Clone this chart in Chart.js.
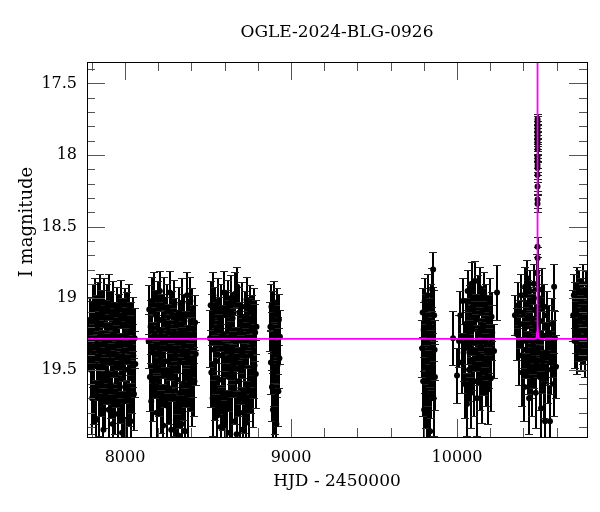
<!DOCTYPE html>
<html>
<head>
<meta charset="utf-8">
<script src="https://cdn.jsdelivr.net/npm/chart.js@4.4.1/dist/chart.umd.min.js"></script>
<style>
  body { margin: 0; background: #fff; }
  canvas { display: block; }
</style>
</head>
<body>
<canvas id="lc" width="600" height="512"></canvas>
<script>
// OGLE photometry, [HJD-2450000, I mag, error], one array per season
var season1 = [[7786,19.32,0.18],[7790,19.15,0.16],[7794,19.50,0.20],[7798,19.21,0.19],[7802,19.70,0.25],[7806,19.08,0.18],[7810,19.40,0.22],[7814,19.63,0.25],[7818,19.02,0.16],[7822,19.29,0.20],[7826,19.85,0.28],[7830,19.17,0.19],[7834,19.48,0.23],[7838,19.06,0.17],[7842,19.36,0.21],[7846,19.70,0.26],[7850,18.99,0.16],[7854,19.25,0.20],[7858,19.58,0.24],[7862,19.12,0.18],[7866,19.44,0.22],[7870,19.92,0.29],[7874,19.03,0.17],[7878,19.31,0.20],[7882,19.66,0.25],[7886,19.20,0.19],[7890,19.51,0.23],[7894,19.07,0.17],[7898,19.38,0.21],[7902,19.78,0.27],[7906,18.99,0.16],[7910,19.27,0.20],[7914,19.60,0.24],[7918,19.13,0.18],[7922,19.45,0.22],[7926,19.88,0.28],[7930,19.05,0.17],[7934,19.34,0.21],[7938,19.69,0.26],[7942,19.22,0.19],[7946,19.53,0.23],[7950,19.10,0.18],[7954,19.41,0.22],[7958,19.81,0.27],[7962,19.16,0.19],[7966,19.30,0.20],[7970,19.62,0.25],[7974,19.04,0.17],[7978,19.47,0.23],[7982,19.94,0.29],[7986,19.19,0.19],[7990,19.37,0.21],[7994,19.72,0.26],[7998,19.11,0.18],[8002,19.50,0.23],[8006,19.26,0.20],[8010,19.85,0.28],[8014,19.15,0.19],[8018,19.43,0.22],[8022,19.64,0.25],[8026,19.08,0.18],[8030,19.33,0.21],[8034,19.86,0.27],[8038,19.23,0.20],[8042,19.56,0.24],[8046,19.18,0.19],[8050,19.40,0.22],[8054,19.67,0.25],[8058,19.28,0.21],[8062,19.46,0.23]];
var season2 = [[8142,19.30,0.19],[8146,19.08,0.17],[8150,19.55,0.24],[8154,19.20,0.19],[8158,19.72,0.27],[8162,19.02,0.17],[8166,19.38,0.21],[8170,19.61,0.25],[8174,18.97,0.15],[8178,19.26,0.20],[8182,19.47,0.23],[8186,19.12,0.18],[8190,19.80,0.28],[8194,19.33,0.21],[8198,19.05,0.17],[8202,19.58,0.24],[8206,19.22,0.19],[8210,18.95,0.14],[8214,19.42,0.22],[8218,19.68,0.26],[8222,19.15,0.18],[8226,19.35,0.21],[8230,19.89,0.29],[8234,19.01,0.16],[8238,19.28,0.20],[8242,19.52,0.24],[8246,19.18,0.19],[8250,19.75,0.27],[8254,19.07,0.17],[8258,19.44,0.22],[8262,19.24,0.20],[8266,19.63,0.25],[8270,18.96,0.15],[8274,19.36,0.21],[8278,19.92,0.29],[8282,19.13,0.18],[8286,19.49,0.23],[8290,19.27,0.20],[8294,19.70,0.26],[8298,19.04,0.17],[8302,19.40,0.22],[8306,19.85,0.28],[8310,19.19,0.19],[8314,19.57,0.24],[8318,19.31,0.21],[8322,19.96,0.30],[8326,19.10,0.18],[8330,19.45,0.23],[8334,19.66,0.25],[8338,19.23,0.20],[8342,19.88,0.29],[8346,19.03,0.17],[8350,19.37,0.21],[8354,19.60,0.25],[8358,19.16,0.19],[8362,19.93,0.30],[8366,19.29,0.20],[8370,19.52,0.24],[8374,18.98,0.16],[8378,19.41,0.22],[8382,19.74,0.27],[8386,19.21,0.19],[8390,19.55,0.24],[8394,19.02,0.17],[8398,19.34,0.21],[8402,19.64,0.25],[8406,19.11,0.18],[8410,19.46,0.23],[8414,19.25,0.20],[8418,19.58,0.24],[8422,19.17,0.19],[8426,19.39,0.22]];
var season3 = [[8512,19.28,0.20],[8516,19.05,0.17],[8520,19.52,0.24],[8524,19.15,0.18],[8528,19.70,0.26],[8532,18.98,0.16],[8536,19.36,0.21],[8540,19.60,0.25],[8544,19.09,0.17],[8548,19.44,0.23],[8552,19.22,0.19],[8556,19.82,0.28],[8560,19.02,0.16],[8564,19.31,0.20],[8568,19.57,0.24],[8572,19.18,0.19],[8576,19.90,0.29],[8580,19.07,0.17],[8584,19.40,0.22],[8588,19.66,0.26],[8592,19.25,0.20],[8596,18.96,0.15],[8600,19.48,0.23],[8604,19.78,0.27],[8608,19.12,0.18],[8612,19.34,0.21],[8616,19.94,0.30],[8620,19.04,0.17],[8624,19.55,0.24],[8628,19.20,0.19],[8632,19.72,0.27],[8636,19.00,0.16],[8640,19.38,0.22],[8644,19.86,0.29],[8648,19.14,0.18],[8652,19.46,0.23],[8656,19.27,0.20],[8660,19.63,0.25],[8664,18.97,0.15],[8668,19.42,0.22],[8672,19.95,0.30],[8676,18.92,0.14],[8680,19.30,0.21],[8684,19.58,0.24],[8688,19.10,0.18],[8692,19.80,0.28],[8696,19.23,0.20],[8700,19.50,0.24],[8704,19.06,0.17],[8708,19.92,0.30],[8712,19.35,0.21],[8716,19.68,0.26],[8720,19.13,0.18],[8724,19.44,0.23],[8728,19.87,0.29],[8732,19.01,0.16],[8736,19.29,0.20],[8740,19.61,0.25],[8744,19.19,0.19],[8748,19.74,0.27],[8752,19.08,0.17],[8756,19.40,0.22],[8760,19.56,0.24],[8764,19.16,0.18],[8768,19.33,0.21],[8772,19.65,0.25],[8776,19.11,0.18],[8780,19.47,0.23],[8784,19.24,0.20],[8788,19.53,0.24],[8792,19.20,0.19]];
var season4 = [[8876,19.20,0.17],[8879,19.45,0.22],[8882,19.06,0.16],[8885,19.62,0.24],[8888,19.30,0.20],[8891,19.78,0.26],[8894,19.12,0.17],[8897,19.52,0.23],[8900,19.03,0.15],[8903,19.38,0.21],[8906,19.70,0.25],[8909,19.24,0.19],[8912,19.88,0.28],[8915,19.09,0.16],[8918,19.47,0.22],[8921,19.33,0.20],[8924,19.65,0.24],[8927,19.15,0.18],[8930,19.42,0.21],[8933,19.27,0.19]];
var season5 = [[9790,19.35,0.20],[9793,19.10,0.17],[9796,19.58,0.24],[9799,19.22,0.19],[9802,19.78,0.27],[9805,19.02,0.16],[9808,19.44,0.22],[9811,19.66,0.25],[9814,19.15,0.18],[9817,19.88,0.28],[9820,19.30,0.20],[9823,18.98,0.15],[9826,19.52,0.23],[9829,19.72,0.26],[9832,19.18,0.18],[9835,19.40,0.22],[9838,19.93,0.29],[9841,19.06,0.16],[9844,19.60,0.24],[9847,19.26,0.20],[9850,18.94,0.15],[9853,19.47,0.23],[9856,18.80,0.12],[9859,19.70,0.26],[9862,19.12,0.18],[9865,19.36,0.21],[9867,19.55,0.23]];
var season6 = [[9976,19.28,0.19],[10000,19.54,0.19],[10012,19.30,0.18],[10020,19.12,0.17],[10028,19.45,0.21],[10034,19.02,0.16],[10040,19.38,0.20],[10046,19.60,0.24],[10052,19.18,0.18],[10060,19.74,0.22],[10064,18.95,0.15],[10068,19.27,0.19],[10072,19.50,0.22],[10076,19.08,0.17],[10080,19.35,0.20],[10084,19.66,0.25],[10088,18.90,0.15],[10092,19.22,0.18],[10096,19.43,0.21],[10100,19.05,0.16],[10104,19.58,0.24],[10108,18.88,0.14],[10112,19.31,0.20],[10116,19.15,0.18],[10120,19.70,0.26],[10124,19.00,0.16],[10128,19.40,0.21],[10132,19.25,0.19],[10136,19.55,0.23],[10140,18.93,0.15],[10144,19.34,0.20],[10148,19.10,0.17],[10152,19.62,0.25],[10156,19.20,0.18],[10160,19.46,0.22],[10164,18.97,0.15],[10168,19.29,0.19],[10172,19.52,0.23],[10176,19.07,0.17],[10180,19.37,0.20],[10184,19.64,0.24],[10188,19.16,0.18],[10192,19.42,0.21],[10196,19.02,0.16],[10200,19.32,0.20],[10204,19.56,0.23],[10208,19.13,0.17],[10212,19.24,0.19],[10223,19.37,0.19],[10241,18.96,0.19]];
var season7 = [[10349,19.12,0.14],[10360,19.25,0.18],[10368,19.05,0.16],[10376,19.40,0.21],[10382,19.18,0.17],[10388,18.98,0.15],[10394,19.52,0.23],[10398,19.30,0.19],[10402,19.10,0.17],[10406,19.62,0.24],[10410,18.92,0.14],[10414,19.36,0.20],[10418,19.20,0.18],[10422,18.86,0.13],[10426,19.45,0.22],[10430,19.03,0.16],[10434,19.70,0.25],[10438,19.27,0.19],[10442,18.95,0.15],[10446,19.48,0.22],[10450,19.14,0.17],[10454,19.58,0.24],[10458,19.33,0.20],[10462,18.90,0.14],[10466,19.42,0.21],[10470,19.08,0.16],[10474,19.66,0.25],[10478,19.22,0.18],[10482,18.82,0.13],[10490,19.35,0.20],[10494,19.00,0.16],[10498,19.55,0.23],[10502,19.16,0.17],[10506,19.77,0.26],[10510,18.94,0.15],[10514,19.44,0.22],[10518,19.26,0.19],[10522,19.60,0.24],[10526,19.06,0.16],[10530,19.86,0.28],[10534,19.38,0.21],[10540,19.12,0.17],[10546,19.50,0.23],[10552,19.24,0.19],[10560,19.86,0.25],[10566,19.45,0.22],[10572,19.18,0.18],[10578,19.35,0.20],[10584,19.60,0.22],[10585,18.92,0.16],[10590,19.28,0.19],[10596,19.48,0.22]];
var season8 = [[10700,19.12,0.18],[10704,18.98,0.15],[10708,19.30,0.19],[10712,19.05,0.16],[10716,19.20,0.18],[10720,18.92,0.14],[10724,19.37,0.16],[10728,19.10,0.17],[10732,19.26,0.18],[10736,18.95,0.15],[10740,19.15,0.17],[10744,19.33,0.18],[10748,19.02,0.16],[10752,19.22,0.18],[10756,18.90,0.14],[10760,19.28,0.18],[10764,19.08,0.16],[10768,19.40,0.15],[10772,19.18,0.17],[10776,18.96,0.15],[10780,19.25,0.18]];
var peak = [[10485.0,17.75,0.04],[10485.1,17.77,0.04],[10485.0,17.80,0.04],[10484.9,17.82,0.04],[10485.1,17.85,0.04],[10485.0,17.87,0.04],[10485.0,17.90,0.04],[10484.9,17.92,0.04],[10485.1,17.96,0.04],[10485.0,18.01,0.04],[10485.0,18.04,0.05],[10485.1,18.07,0.05],[10484.9,18.09,0.05],[10485.0,18.14,0.05],[10485.0,18.22,0.05],[10485.1,18.31,0.06],[10484.9,18.34,0.06],[10485.0,18.64,0.07],[10485.1,18.72,0.08]];

// microlensing model curve (magenta)
var modelT   = [7700, 10470, 10476, 10480, 10482, 10483.5, 10484.5, 10485, 10485.5, 10486.5, 10488, 10490, 10494, 10500, 10900];
var modelMag = [19.285, 19.285, 19.28, 19.265, 19.24, 19.17, 18.7, 17.0, 18.7, 19.17, 19.24, 19.265, 19.28, 19.285, 19.285];

var xTicks = [8000, 9000, 10000];
var yTicks = [17.5, 18, 18.5, 19, 19.5];

var seasons = [season1, season2, season3, season4, season5, season6, season7, season8, peak];
var allPts = [];
seasons.forEach(function(s){ s.forEach(function(p){ allPts.push({x: p[0], y: p[1]}); }); });

var serif = "'DejaVu Serif', 'Liberation Serif', serif";

var framePlugin = {
  id: 'frame',
  beforeDatasetsDraw: function(chart) {
    var ctx = chart.ctx, a = chart.chartArea, x = chart.scales.x, y = chart.scales.y;
    ctx.save();
    ctx.beginPath();
    ctx.rect(a.left, a.top, a.right - a.left, a.bottom - a.top);
    ctx.clip();
    ctx.strokeStyle = '#000';
    var bars = new Path2D(), caps = new Path2D();
    seasons.forEach(function(s){
      s.forEach(function(p){
        var px = Math.round(x.getPixelForValue(p[0]));
        var y1 = Math.round(y.getPixelForValue(p[1] - p[2])) + 0.5;
        var y2 = Math.round(y.getPixelForValue(p[1] + p[2])) + 0.5;
        bars.moveTo(px, y1); bars.lineTo(px, y2);
        caps.moveTo(px - 4, y1); caps.lineTo(px + 4, y1);
        caps.moveTo(px - 4, y2); caps.lineTo(px + 4, y2);
      });
    });
    ctx.lineWidth = 2;
    ctx.stroke(bars);
    ctx.lineWidth = 1;
    ctx.strokeStyle = '#222';
    ctx.stroke(caps);
    ctx.restore();
  },
  afterDraw: function(chart) {
    var ctx = chart.ctx, a = chart.chartArea, x = chart.scales.x, y = chart.scales.y;
    ctx.save();
    // inward ticks
    ctx.strokeStyle = '#555';
    ctx.lineWidth = 1;
    ctx.beginPath();
    var v, px, len;
    for (v = 7800; v <= 10800; v += 200) {
      px = Math.round(x.getPixelForValue(v)) + 0.5;
      if (px < a.left || px > a.right) continue;
      len = (v % 1000 === 0) ? 18 : 9;
      ctx.moveTo(px, a.bottom); ctx.lineTo(px, a.bottom - len);
      ctx.moveTo(px, a.top); ctx.lineTo(px, a.top + len);
    }
    for (var k = 174; k <= 199; k++) {
      v = k / 10;
      var py = Math.round(y.getPixelForValue(v)) + 0.5;
      if (py < a.top || py > a.bottom) continue;
      len = (k % 5 === 0) ? 18 : 8;
      ctx.moveTo(a.left, py); ctx.lineTo(a.left + len, py);
      ctx.moveTo(a.right, py); ctx.lineTo(a.right - len, py);
    }
    ctx.stroke();
    // frame
    ctx.strokeStyle = '#000';
    ctx.strokeRect(Math.round(a.left) + 0.5, Math.round(a.top) + 0.5,
                   Math.round(a.right - a.left), Math.round(a.bottom - a.top));
    // titles
    ctx.fillStyle = '#000';
    ctx.textAlign = 'center';
    ctx.textBaseline = 'middle';
    ctx.font = '17px ' + serif;
    ctx.fillText('OGLE-2024-BLG-0926', (a.left + a.right) / 2, 33);
    ctx.fillText('HJD - 2450000', (a.left + a.right) / 2, 482);
    ctx.translate(27, 222);
    ctx.rotate(-Math.PI / 2);
    ctx.font = '18px ' + serif;
    ctx.fillText('I magnitude', 0, 0);
    ctx.restore();
  }
};

new Chart(document.getElementById('lc'), {
  type: 'scatter',
  data: {
    datasets: [
      {
        label: 'model',
        data: modelT.map(function(t, i){ return {x: t, y: modelMag[i]}; }),
        showLine: true,
        borderColor: '#ff00ff',
        borderWidth: 1.8,
        pointRadius: 0,
        order: 0
      },
      {
        label: 'OGLE I',
        data: allPts,
        backgroundColor: '#000',
        borderWidth: 0,
        pointRadius: 3,
        order: 1
      }
    ]
  },
  options: {
    responsive: false,
    animation: false,
    devicePixelRatio: 1,
    layout: { padding: { top: 62, right: 13, left: 0, bottom: 0 } },
    plugins: { legend: { display: false }, tooltip: { enabled: false } },
    scales: {
      x: {
        type: 'linear',
        min: 7771,
        max: 10783,
        grid: { display: false, drawTicks: false },
        border: { display: false },
        afterBuildTicks: function(s){ s.ticks = xTicks.map(function(v){ return {value: v}; }); },
        afterFit: function(s){ s.height = 75; },
        ticks: {
          autoSkip: false, maxRotation: 0, padding: 11, color: '#000',
          font: { family: serif, size: 16 },
          callback: function(v){ return String(v); }
        }
      },
      y: {
        type: 'linear',
        reverse: true,
        min: 17.35,
        max: 19.97,
        grid: { display: false, drawTicks: false },
        border: { display: false },
        afterBuildTicks: function(s){ s.ticks = yTicks.map(function(v){ return {value: v}; }); },
        afterFit: function(s){ s.width = 87; },
        ticks: {
          autoSkip: false, padding: 10, color: '#000',
          font: { family: serif, size: 16 },
          callback: function(v){ return String(v); }
        }
      }
    }
  },
  plugins: [framePlugin]
});
</script>
</body>
</html>
